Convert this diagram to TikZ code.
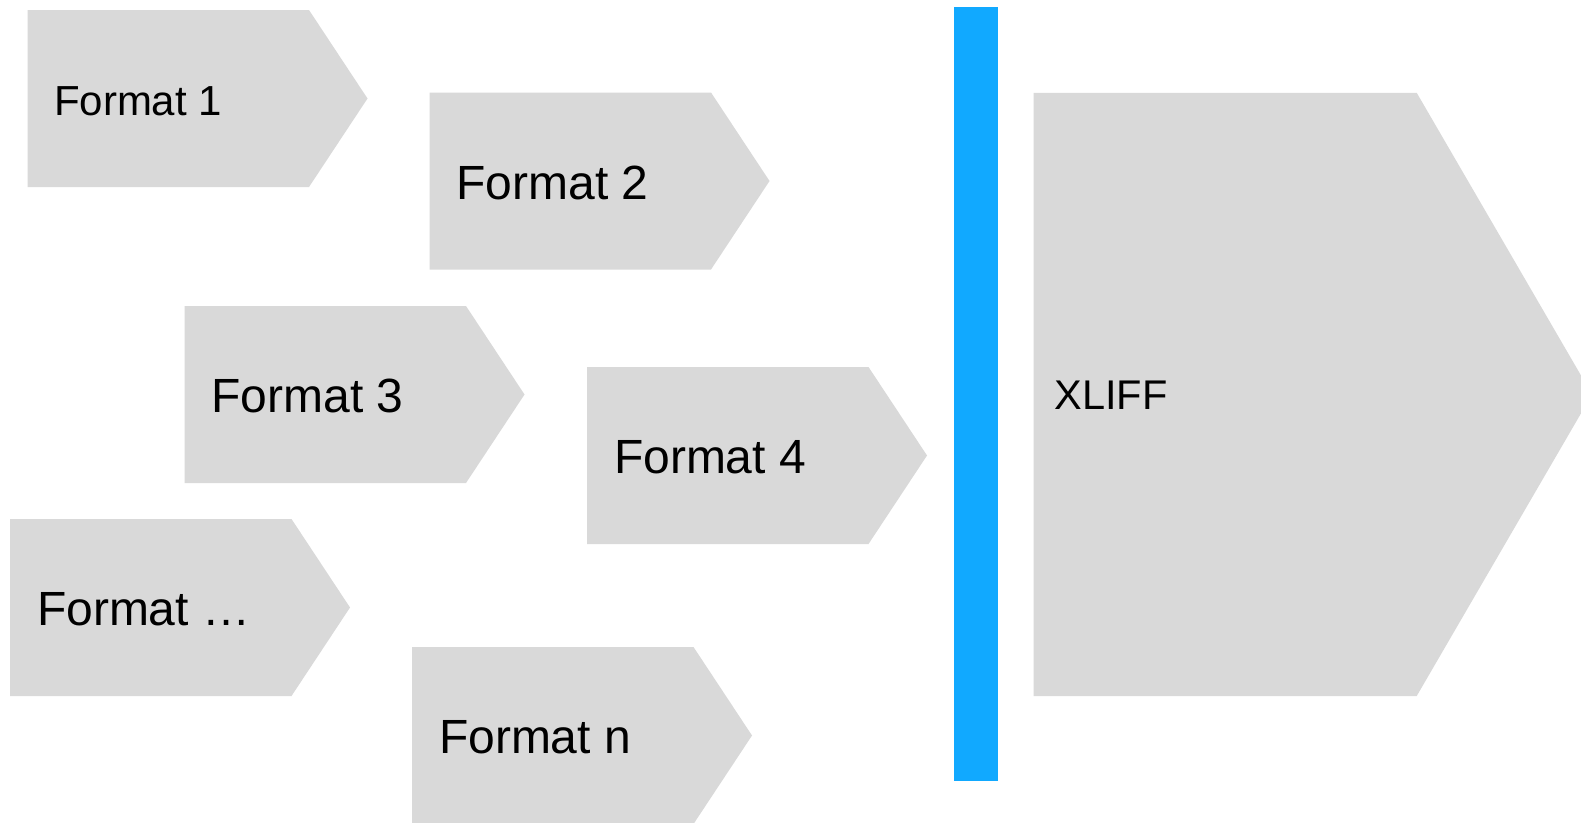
\documentclass[tikz,border=0pt]{standalone}
\usepackage{fontspec}
\setmainfont{Liberation Sans}
\definecolor{boxgray}{HTML}{D9D9D9}
\definecolor{barblue}{HTML}{11A9FF}
\tikzset{
  chevron/.style={fill=boxgray, draw=none},
  bar/.style={fill=barblue, draw=none},
  lbl/.style={anchor=base west, inner sep=0pt, outer sep=0pt, text=black},
  small/.style={lbl, font=\fontsize{42}{50}\selectfont},
  big/.style={lbl, font=\fontsize{48}{56}\selectfont},
  xl/.style={lbl, font=\fontsize{41.5}{48}\selectfont},
}
% #1 = left, #2 = top (image pixels)
\newcommand{\mychev}[2]{%
  \fill[chevron] (#1,#2) -- ++(281.5,0) -- ++(58.5,88.5) -- ++(-58.5,88.5) -- ++(-281.5,0) -- cycle;
}
\begin{document}
\begin{tikzpicture}[x=1pt,y=-1pt]
\useasboundingbox (0,0) rectangle (1581,822);
\clip (0,0) rectangle (1581,822);
\fill[white] (0,0) rectangle (1581,822);
\mychev{27.5}{10}
\mychev{429.5}{92.5}
\mychev{184.5}{306}
\mychev{587}{367}
\mychev{10}{519}
\mychev{412}{647}
\fill[chevron] (1033.5,92.8) -- (1416.7,92.8) -- (1592,394.4) -- (1416.7,696) -- (1033.5,696) -- cycle;
\fill[bar] (953.5,7) rectangle (998.2,781);
\node[small] (t1) at (54,115) {Format 1};
\node[big] (t2) at (456.5,199.3) {Format 2};
\node[big] (t3) at (211.5,412.8) {Format 3};
\node[big] (t4) at (614,473.8) {Format 4};
\node[big] (t5) at (37,625.8) {Format …};
\node[big] (t6) at (439,753.8) {Format n};
\node[xl] (tx) at (1054.5,409) {XLIFF};
\end{tikzpicture}
\end{document}
